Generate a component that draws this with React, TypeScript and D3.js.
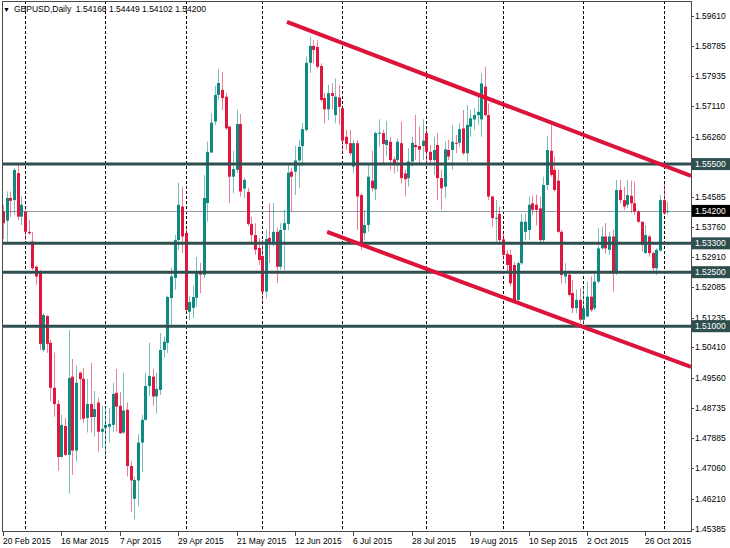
import React from "react";
import * as d3 from "d3";

// ---- Data (GBPUSD Daily, bar 0 = 20 Feb 2015) ----
const opens = [
  1.5418, 1.5393, 1.5456, 1.5450, 1.5525, 1.5404, 1.5418, 1.5362, 1.5335, 1.5265,
  1.5251, 1.5034, 1.5128, 1.5054, 1.4929, 1.4884, 1.4737, 1.4823, 1.4743, 1.4960,
  1.4755, 1.4971, 1.4954, 1.4845, 1.4884, 1.4848, 1.4888, 1.4807, 1.4818, 1.4821,
  1.4826, 1.4915, 1.4879, 1.4805, 1.4868, 1.4712, 1.4621, 1.4672, 1.4777, 1.4840,
  1.4934, 1.4960, 1.4905, 1.4923, 1.5034, 1.5054, 1.5178, 1.5234, 1.5339, 1.5432,
  1.5359, 1.5140, 1.5151, 1.5179, 1.5252, 1.5243, 1.5442, 1.5582, 1.5668, 1.5742,
  1.5756, 1.5737, 1.5654, 1.5515, 1.5534, 1.5661, 1.5482, 1.5473, 1.5384, 1.5353,
  1.5317, 1.5295, 1.5196, 1.5345, 1.5331, 1.5362, 1.5265, 1.5367, 1.5384, 1.5529,
  1.5529, 1.5560, 1.5600, 1.5645, 1.5831, 1.5878, 1.5875, 1.5822, 1.5733, 1.5702,
  1.5747, 1.5686, 1.5735, 1.5705, 1.5626, 1.5608, 1.5543, 1.5608, 1.5464, 1.5358,
  1.5381, 1.5504, 1.5480, 1.5634, 1.5636, 1.5603, 1.5612, 1.5563, 1.5561, 1.5608,
  1.5524, 1.5511, 1.5557, 1.5603, 1.5600, 1.5600, 1.5636, 1.5584, 1.5561, 1.5603,
  1.5511, 1.5487, 1.5589, 1.5589, 1.5609, 1.5609, 1.5649, 1.5580, 1.5654, 1.5674,
  1.5686, 1.5674, 1.5765, 1.5686, 1.5460, 1.5399, 1.5412, 1.5341, 1.5301, 1.5298,
  1.5270, 1.5173, 1.5275, 1.5362, 1.5367, 1.5441, 1.5437, 1.5427, 1.5339, 1.5492,
  1.5587, 1.5534, 1.5504, 1.5362, 1.5238, 1.5243, 1.5192, 1.5150, 1.5173, 1.5118,
  1.5127, 1.5182, 1.5150, 1.5224, 1.5316, 1.5349, 1.5312, 1.5349, 1.5247, 1.5478,
  1.5450, 1.5437, 1.5462, 1.5441, 1.5418, 1.5390, 1.5303, 1.5349, 1.5303, 1.5261,
  1.5310, 1.5450, 1.54166,
];
const highs = [
  1.5437, 1.5474, 1.5474, 1.5539, 1.5553, 1.5460, 1.5423, 1.5395, 1.5362, 1.5270,
  1.5256, 1.5137, 1.5131, 1.5062, 1.5027, 1.4895, 1.4854, 1.4845, 1.5090, 1.5009,
  1.4990, 1.4974, 1.4984, 1.4954, 1.4998, 1.4920, 1.4901, 1.4879, 1.4873, 1.4873,
  1.4943, 1.4981, 1.4918, 1.4971, 1.4888, 1.4724, 1.4683, 1.4801, 1.4854, 1.4970,
  1.5054, 1.4981, 1.4971, 1.5081, 1.5071, 1.5185, 1.5262, 1.5353, 1.5498, 1.5487,
  1.5373, 1.5184, 1.5212, 1.5292, 1.5276, 1.5520, 1.5612, 1.5691, 1.5767, 1.5814,
  1.5806, 1.5747, 1.5654, 1.5587, 1.5700, 1.5689, 1.5512, 1.5484, 1.5404, 1.5386,
  1.5345, 1.5339, 1.5367, 1.5441, 1.5442, 1.5373, 1.5386, 1.5423, 1.5552, 1.5539,
  1.5600, 1.5617, 1.5664, 1.5848, 1.5904, 1.5894, 1.5894, 1.5830, 1.5747, 1.5770,
  1.5774, 1.5788, 1.5770, 1.5709, 1.5645, 1.5645, 1.5617, 1.5617, 1.5469, 1.5423,
  1.5552, 1.5587, 1.5640, 1.5674, 1.5645, 1.5670, 1.5626, 1.5571, 1.5622, 1.5668,
  1.5534, 1.5594, 1.5626, 1.5686, 1.5654, 1.5674, 1.5649, 1.5603, 1.5626, 1.5636,
  1.5534, 1.5612, 1.5617, 1.5659, 1.5631, 1.5663, 1.5700, 1.5714, 1.5700, 1.5705,
  1.5737, 1.5802, 1.5820, 1.5719, 1.5462, 1.5450, 1.5432, 1.5358, 1.5312, 1.5312,
  1.5279, 1.5279, 1.5412, 1.5414, 1.5460, 1.5462, 1.5465, 1.5460, 1.5515, 1.5628,
  1.5659, 1.5571, 1.5534, 1.5367, 1.5275, 1.5256, 1.5228, 1.5201, 1.5205, 1.5210,
  1.5224, 1.5238, 1.5252, 1.5372, 1.5376, 1.5386, 1.5362, 1.5367, 1.5506, 1.5506,
  1.5487, 1.5506, 1.5504, 1.5501, 1.5423, 1.5390, 1.5381, 1.5353, 1.5307, 1.5316,
  1.5464, 1.5497, 1.54449,
];
const lows = [
  1.5342, 1.5331, 1.5404, 1.5409, 1.5395, 1.5381, 1.5339, 1.5353, 1.5256, 1.5215,
  1.5034, 1.5029, 1.5026, 1.4891, 1.4849, 1.4699, 1.4735, 1.4740, 1.4635, 1.4687,
  1.4724, 1.4840, 1.4832, 1.4805, 1.4805, 1.4794, 1.4752, 1.4762, 1.4735, 1.4777,
  1.4807, 1.4807, 1.4801, 1.4801, 1.4683, 1.4585, 1.4564, 1.4601, 1.4696, 1.4838,
  1.4907, 1.4879, 1.4857, 1.4909, 1.5012, 1.5026, 1.5104, 1.5201, 1.5312, 1.5303,
  1.5140, 1.5117, 1.5123, 1.5154, 1.5192, 1.5234, 1.5390, 1.5581, 1.5659, 1.5728,
  1.5700, 1.5645, 1.5442, 1.5469, 1.5525, 1.5460, 1.5456, 1.5378, 1.5330, 1.5298,
  1.5270, 1.5168, 1.5178, 1.5275, 1.5321, 1.5220, 1.5256, 1.5256, 1.5367, 1.5418,
  1.5464, 1.5484, 1.5543, 1.5640, 1.5803, 1.5830, 1.5815, 1.5723, 1.5663, 1.5672,
  1.5702, 1.5663, 1.5659, 1.5584, 1.5589, 1.5573, 1.5524, 1.5367, 1.5312, 1.5339,
  1.5362, 1.5474, 1.5450, 1.5598, 1.5552, 1.5571, 1.5534, 1.5524, 1.5529, 1.5497,
  1.5460, 1.5487, 1.5543, 1.5561, 1.5552, 1.5561, 1.5548, 1.5552, 1.5520, 1.5450,
  1.5423, 1.5455, 1.5561, 1.5534, 1.5580, 1.5597, 1.5575, 1.5557, 1.5626, 1.5645,
  1.5659, 1.5626, 1.5682, 1.5450, 1.5376, 1.5335, 1.5326, 1.5284, 1.5247, 1.5210,
  1.5167, 1.5167, 1.5270, 1.5339, 1.5339, 1.5409, 1.5380, 1.5326, 1.5330, 1.5478,
  1.5515, 1.5474, 1.5358, 1.5219, 1.5219, 1.5182, 1.5136, 1.5136, 1.5108, 1.5108,
  1.5125, 1.5140, 1.5145, 1.5219, 1.5312, 1.5302, 1.5298, 1.5196, 1.5242, 1.5441,
  1.5423, 1.5427, 1.5414, 1.5409, 1.5386, 1.5307, 1.5301, 1.5293, 1.5247, 1.5242,
  1.5307, 1.5409, 1.54102,
];
const closes = [
  1.5386, 1.5456, 1.5448, 1.5534, 1.5404, 1.5437, 1.5362, 1.5358, 1.5261, 1.5238,
  1.5051, 1.5131, 1.5051, 1.4929, 1.4884, 1.4737, 1.4826, 1.4743, 1.4956, 1.4755,
  1.4943, 1.4953, 1.4843, 1.4884, 1.4848, 1.4870, 1.4807, 1.4815, 1.4826, 1.4829,
  1.4912, 1.4877, 1.4803, 1.4866, 1.4712, 1.4672, 1.4673, 1.4777, 1.4840, 1.4934,
  1.4962, 1.4905, 1.4926, 1.5034, 1.5057, 1.5181, 1.5238, 1.5339, 1.5437, 1.5349,
  1.5145, 1.5167, 1.5181, 1.5248, 1.5243, 1.5456, 1.5584, 1.5665, 1.5742, 1.5775,
  1.5733, 1.5649, 1.5515, 1.5536, 1.5661, 1.5474, 1.5506, 1.5384, 1.5353, 1.5312,
  1.5284, 1.5196, 1.5342, 1.5334, 1.5362, 1.5265, 1.5367, 1.5386, 1.5526, 1.5515,
  1.5560, 1.5598, 1.5647, 1.5831, 1.5878, 1.5867, 1.5820, 1.5728, 1.5702, 1.5747,
  1.5739, 1.5737, 1.5709, 1.5615, 1.5606, 1.5580, 1.5608, 1.5460, 1.5330, 1.5381,
  1.5515, 1.5483, 1.5636, 1.5637, 1.5606, 1.5617, 1.5561, 1.5550, 1.5612, 1.5511,
  1.5508, 1.5557, 1.5609, 1.5597, 1.5590, 1.5615, 1.5584, 1.5561, 1.5589, 1.5511,
  1.5483, 1.5591, 1.5571, 1.5612, 1.5608, 1.5647, 1.5580, 1.5659, 1.5677, 1.5686,
  1.5695, 1.5774, 1.5686, 1.5460, 1.5400, 1.5401, 1.5339, 1.5298, 1.5270, 1.5219,
  1.5173, 1.5275, 1.5390, 1.5390, 1.5437, 1.5423, 1.5423, 1.5339, 1.5492, 1.5589,
  1.5520, 1.5478, 1.5362, 1.5242, 1.5252, 1.5187, 1.5150, 1.5173, 1.5118, 1.5150,
  1.5182, 1.5145, 1.5224, 1.5316, 1.5349, 1.5316, 1.5349, 1.5247, 1.5478, 1.5450,
  1.5432, 1.5464, 1.5441, 1.5418, 1.5390, 1.5326, 1.5353, 1.5303, 1.5261, 1.5312,
  1.5450, 1.5413, 1.54200,
];

const xTickBars = [0, 16, 32, 48, 64, 80, 96, 112, 128, 144, 160, 176];
const xTickLabels = [
  "20 Feb 2015", "16 Mar 2015", "7 Apr 2015", "29 Apr 2015", "21 May 2015", "12 Jun 2015",
  "6 Jul 2015", "28 Jul 2015", "19 Aug 2015", "10 Sep 2015", "2 Oct 2015", "26 Oct 2015",
];
const monthStartBars = [6, 28, 50, 71, 93, 116, 137, 159, 181];
const yTickValues = [
  1.5961, 1.58785, 1.57935, 1.5711, 1.5626, 1.55435, 1.54585, 1.5376, 1.5291,
  1.52085, 1.51235, 1.5041, 1.4956, 1.48735, 1.47885, 1.4706, 1.4621, 1.45385,
];
const levelPrices = [1.555, 1.533, 1.525, 1.51];
const lastPrice = 1.542;
const headerText = "GBPUSD,Daily  1.54166 1.54449 1.54102 1.54200";
// trend lines: [startBar, startPrice, endBar, endPrice]
const upperTrend = [77.8, 1.59444, 188.5, 1.55169];
const lowerTrend = [88.8, 1.53615, 188.5, 1.49868];

const BULL = "#0d8a82";
const BEAR = "#e0163e";
const LEVEL = "#2f4f4f";
const FONT = "'Liberation Sans', Arial, sans-serif";

export default function App() {
  const left = 2, right = 691, top = 1, bottom = 531;
  const x = d3.scaleLinear().domain([0, 1]).range([3, 6.65]);
  const y = d3.scaleLinear().domain([1.45385, 1.5961]).range([528.5, 16]);
  const fmt = d3.format(".5f");
  const line = d3.line<[number, number]>().x((d) => x(d[0])).y((d) => y(d[1]));

  return (
    <svg width={730} height={548} style={{ position: "fixed", left: 0, top: 0, background: "#fff" }}
      fontFamily={FONT}>
      <defs>
        <clipPath id="plot">
          <rect x={left} y={top} width={right - left} height={bottom - top} />
        </clipPath>
      </defs>
      <rect x={0} y={0} width={730} height={548} fill="#fff" />
      {/* grid */}
      {monthStartBars.map((b) => (
        <line key={"g" + b} x1={Math.round(x(b)) + 0.5} x2={Math.round(x(b)) + 0.5} y1={top} y2={bottom}
          stroke="#000" strokeWidth={1} strokeDasharray="3,2" />
      ))}
      <g clipPath="url(#plot)">
        {/* last price line */}
        <line x1={left} x2={right} y1={Math.round(y(lastPrice)) + 0.5} y2={Math.round(y(lastPrice)) + 0.5}
          stroke="#8b9aa4" strokeWidth={1} />
        {/* candles */}
        {closes.map((c, i) => {
          const o = opens[i];
          const bull = c >= o;
          const col = bull ? BULL : BEAR;
          const cx = Math.round(x(i));
          const yt = y(Math.max(o, c));
          const yb = y(Math.min(o, c));
          return (
            <g key={i}>
              <line x1={cx + 0.5} x2={cx + 0.5} y1={y(highs[i])} y2={y(lows[i])} stroke={col}
                strokeOpacity={0.55} strokeWidth={1} />
              <rect x={cx - 1} y={yt} width={3} height={Math.max(1, yb - yt)} fill={col} />
            </g>
          );
        })}
        {/* horizontal levels */}
        {levelPrices.map((p) => (
          <line key={"l" + p} x1={left} x2={right} y1={y(p)} y2={y(p)} stroke={LEVEL} strokeWidth={3} />
        ))}
        {/* trend lines */}
        {[upperTrend, lowerTrend].map((t, k) => (
          <path key={"t" + k} d={line([[t[0], t[1]], [t[2], t[3]]]) || ""} stroke="#dc143c"
            strokeWidth={4} fill="none" />
        ))}
      </g>
      {/* frame */}
      <rect x={left + 0.5} y={top + 0.5} width={right - left} height={bottom - top} fill="none"
        stroke="#4a4a4a" strokeWidth={1} />
      {/* header */}
      <text x={3} y={12} fontSize={7} fill="#000">▼</text>
      <text x={14} y={12} fontSize={8.5} fill="#000" style={{ whiteSpace: "pre" }}>{headerText}</text>
      {/* x axis */}
      {xTickBars.map((b, k) => (
        <g key={"x" + b}>
          <line x1={Math.round(x(b)) + 0.5} x2={Math.round(x(b)) + 0.5} y1={bottom} y2={bottom + 5}
            stroke="#4a4a4a" />
          <text x={Math.round(x(b))} y={544} fontSize={8.5} fill="#000">{xTickLabels[k]}</text>
        </g>
      ))}
      {/* y axis */}
      {yTickValues.map((v) => (
        <g key={"y" + v}>
          <line x1={right} x2={right + 3} y1={Math.round(y(v)) + 0.5} y2={Math.round(y(v)) + 0.5}
            stroke="#4a4a4a" />
          <text x={695} y={y(v) + 3} fontSize={8.5} fill="#000">{fmt(v)}</text>
        </g>
      ))}
      {levelPrices.map((p) => (
        <g key={"lb" + p}>
          <rect x={692} y={y(p) - 6} width={38} height={12} fill={LEVEL} />
          <text x={695} y={y(p) + 3} fontSize={8.5} fill="#fff">{fmt(p)}</text>
        </g>
      ))}
      <rect x={692} y={y(lastPrice) - 6} width={38} height={12} fill="#000" />
      <text x={695} y={y(lastPrice) + 3} fontSize={8.5} fill="#fff">{fmt(lastPrice)}</text>
    </svg>
  );
}
